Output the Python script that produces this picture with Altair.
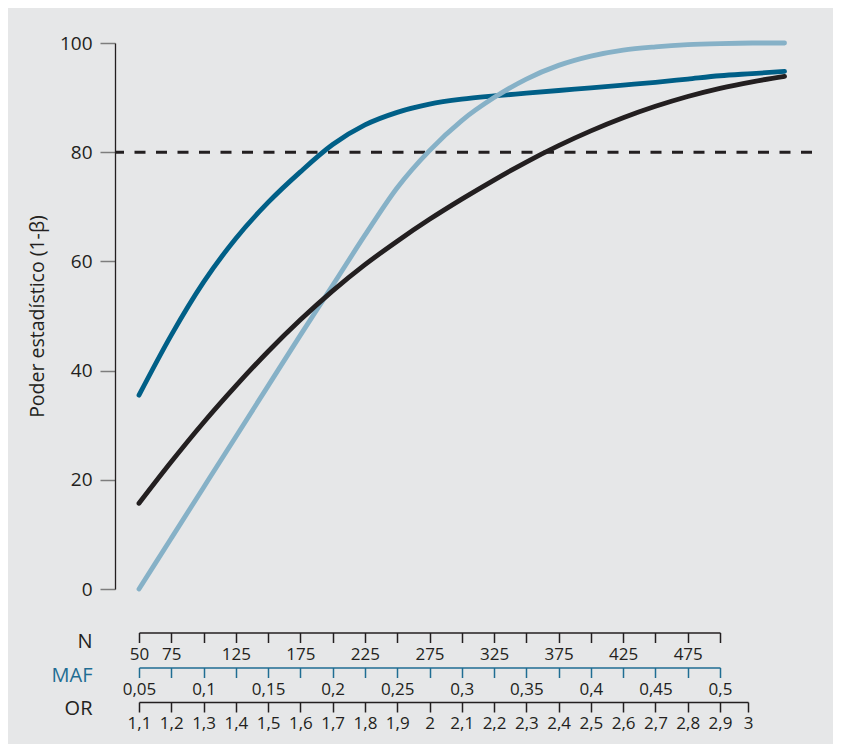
import altair as alt
import pandas as pd

# ---------------- data ----------------
N_curva = [50, 75, 100, 125, 150, 175, 200, 225, 250, 275, 300,
           325, 350, 375, 400, 425, 450, 475, 500, 525, 550]
poder_maf = [35.5, 46.5, 56.2, 64.2, 70.8, 76.4, 81.4, 85.0, 87.3, 88.8, 89.7,
             90.3, 90.8, 91.3, 91.8, 92.3, 92.8, 93.4, 94.0, 94.4, 94.8]
poder_n = [15.7, 23.3, 30.5, 37.2, 43.5, 49.3, 54.6, 59.4, 63.7, 67.7, 71.4,
           74.9, 78.2, 81.2, 83.9, 86.3, 88.4, 90.2, 91.7, 92.9, 93.9]
poder_or = [0.0, 9.3, 18.6, 27.9, 37.2, 46.5, 55.6, 64.8, 73.5, 80.3, 85.8,
            90.0, 93.4, 95.9, 97.6, 98.7, 99.3, 99.7, 99.9, 100.0, 100.0]

n_ticks = [50, 75, 100, 125, 150, 175, 200, 225, 250, 275, 300, 325, 350,
           375, 400, 425, 450, 475, 500]
maf_ticks = [0.05, 0.075, 0.1, 0.125, 0.15, 0.175, 0.2, 0.225, 0.25, 0.275,
             0.3, 0.325, 0.35, 0.375, 0.4, 0.425, 0.45, 0.475, 0.5]
or_ticks = [1.1, 1.2, 1.3, 1.4, 1.5, 1.6, 1.7, 1.8, 1.9, 2.0, 2.1, 2.2, 2.3,
            2.4, 2.5, 2.6, 2.7, 2.8, 2.9, 3.0]
y_ticks = [0, 20, 40, 60, 80, 100]
umbral = [80]

# ---------------- styles ----------------
BG = "#e6e7e8"
INK = "#231f20"
DARK_BLUE = "#005f87"
LIGHT_BLUE = "#86b1c7"
MAF_BLUE = "#1f6d93"
FONT = "Open Sans"

W, H = 697, 546
R0, R1, R2 = 24, 605, 633

df = pd.concat([
    pd.DataFrame({"N": N_curva, "poder": poder_maf, "serie": "MAF"}),
    pd.DataFrame({"N": N_curva, "poder": poder_or, "serie": "OR"}),
    pd.DataFrame({"N": N_curva, "poder": poder_n, "serie": "N"}),
])

y_scale = alt.Scale(domain=[0, 100], nice=False, zero=False)
y_axis = alt.Axis(
    values=y_ticks, grid=False, tickSize=15, tickColor="#7d7d7d", tickWidth=1.5,
    domainColor=INK, domainWidth=1.3, labelFontSize=19, labelColor=INK,
    labelPadding=8, labelFont=FONT,
    title="Poder estadístico (1-β)", titleFont=FONT, titleFontSize=19.5,
    titleFontWeight="normal", titleColor=INK, titleX=-78, titleY=273,
    titleAngle=270, titleAlign="center", titleBaseline="middle",
)

n_scale = alt.Scale(domain=[50, 500], range=[R0, R1], nice=False, zero=False)


def bottom_axis(values, label_expr, title, title_color, line_color, offset, title_y):
    return alt.Axis(
        orient="bottom", values=values, labelExpr=label_expr, grid=False,
        offset=offset, tickSize=10, tickWidth=1.5, tickColor=line_color,
        domainColor=line_color, domainWidth=1.5, labelFont=FONT,
        labelFontSize=17, labelColor=INK, labelPadding=3.5, labelOverlap=False,
        labelFlush=False, title=title, titleFont=FONT, titleFontSize=20,
        titleFontWeight="normal", titleColor=title_color, titleX=-23,
        titleY=title_y, titleAlign="right", titleBaseline="middle",
    )


n_axis = bottom_axis(
    n_ticks, "datum.value == 50 || datum.value % 50 == 25 ? datum.label : ''",
    "N", INK, INK, 43.5, 9,
)
maf_axis = bottom_axis(
    maf_ticks,
    "abs(datum.value * 20 - round(datum.value * 20)) < 0.001 ? "
    "replace(format(datum.value, '~g'), '.', ',') : ''",
    "MAF", MAF_BLUE, MAF_BLUE, 78.5, 8,
)
or_axis = bottom_axis(
    or_ticks, "replace(format(datum.value, '~g'), '.', ',')",
    "OR", INK, INK, 113, 6.5,
)


def curva(serie, color, axis):
    return alt.Chart(df).transform_filter(alt.datum.serie == serie).mark_line(
        color=color, strokeWidth=4.8, strokeCap="round", interpolate="monotone"
    ).encode(
        x=alt.X("N:Q", scale=n_scale, axis=axis),
        y=alt.Y("poder:Q", scale=y_scale, axis=y_axis),
    )


regla = alt.Chart(pd.DataFrame({"poder": umbral})).mark_rule(
    color=INK, strokeWidth=3, strokeDash=[11, 10.5]
).encode(y=alt.Y("poder:Q", scale=y_scale, axis=y_axis))

capa_maf = alt.Chart(pd.DataFrame({"MAF": maf_ticks})).mark_point(
    opacity=0, size=1
).encode(
    x=alt.X("MAF:Q", scale=alt.Scale(domain=[0.05, 0.5], range=[R0, R1],
                                     nice=False, zero=False), axis=maf_axis)
)

capa_or = alt.Chart(pd.DataFrame({"OR": or_ticks})).mark_point(
    opacity=0, size=1
).encode(
    x=alt.X("OR:Q", scale=alt.Scale(domain=[1.1, 2.9, 3.0], range=[R0, R1, R2],
                                    nice=False, zero=False), axis=or_axis)
)

chart = alt.layer(
    regla,
    curva("MAF", DARK_BLUE, n_axis),
    curva("OR", LIGHT_BLUE, None),
    curva("N", INK, None),
    capa_maf,
    capa_or,
).resolve_scale(x="independent").resolve_axis(x="independent").properties(
    width=W, height=H,
    padding={"left": 107, "top": 35, "right": 21, "bottom": 155},
    autosize=alt.AutoSizeParams(type="none"),
    background=BG,
).configure_view(stroke=None)

chart.save("out.html", embed_options={"renderer": "svg", "actions": False})
